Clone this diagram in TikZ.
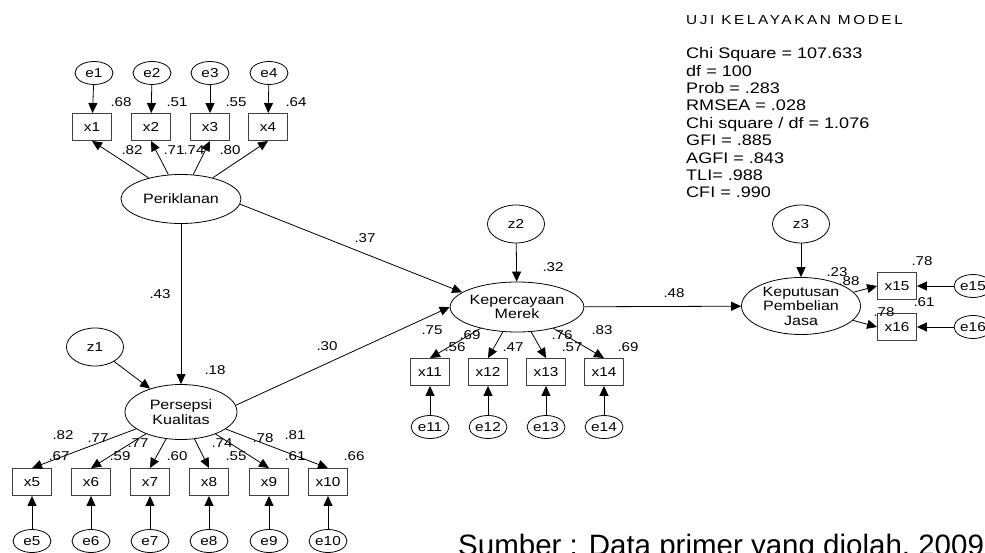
\documentclass[tikz,border=0pt]{standalone}
\usepackage{fontspec}
\setmainfont{Liberation Sans}[FakeStretch=1.18]
\newfontfamily\srcfont{Liberation Sans}
\usetikzlibrary{arrows.meta,shapes.geometric}

\begin{document}
\begin{tikzpicture}[
  x=1pt,y=-1pt,
  >={Triangle[length=10pt,width=9pt]},
  lat/.style={ellipse,draw,line width=0.8pt,inner sep=0pt,align=center,font=\fontsize{13.6}{14.5}\selectfont},
  obs/.style={rectangle,draw=black!75,line width=0.9pt,minimum width=39pt,minimum height=27pt,inner sep=0pt,font=\fontsize{13}{14}\selectfont},
  err/.style={ellipse,draw,line width=0.8pt,minimum width=38pt,minimum height=23pt,inner sep=0pt,font=\fontsize{13}{14}\selectfont},
  res/.style={err,minimum width=57pt,minimum height=38pt},
  coef/.style={inner sep=0pt,font=\fontsize{12.8}{14}\selectfont},
  arr/.style={->,line width=0.8pt},
]
\useasboundingbox (0,0) rectangle (985,553);

% latent constructs
\node[lat,minimum width=120pt,minimum height=49pt] (per) at (181,199) {Periklanan};
\node[lat,minimum width=112pt,minimum height=55pt] (pk)  at (181,412) {Persepsi\\Kualitas};
\node[lat,minimum width=129pt,minimum height=50pt] (km)  at (517,307) {Kepercayaan\\Merek};
\node[lat,minimum width=119pt,minimum height=57pt] (kpj) at (801,306) {Keputusan\\Pembelian\\Jasa};

% residuals
\node[res] (z1) at (95,347) {z1};
\node[res] (z2) at (516,224) {z2};
\node[res] (z3) at (801,224) {z3};

% indicators of Periklanan
\node[obs] (x1) at (92,127) {x1};
\node[obs] (x2) at (151,127) {x2};
\node[obs] (x3) at (210,127) {x3};
\node[obs] (x4) at (268,127) {x4};
\node[err] (e1) at (94,73) {e1};
\node[err] (e2) at (152,73) {e2};
\node[err] (e3) at (210,73) {e3};
\node[err] (e4) at (269,73) {e4};

% indicators of Persepsi Kualitas
\node[obs] (x5)  at (32,482) {x5};
\node[obs] (x6)  at (91,482) {x6};
\node[obs] (x7)  at (150,482) {x7};
\node[obs] (x8)  at (209,482) {x8};
\node[obs] (x9)  at (269,482) {x9};
\node[obs] (x10) at (328,482) {x10};
\node[err] (e5)  at (32,541) {e5};
\node[err] (e6)  at (91,541) {e6};
\node[err] (e7)  at (150,541) {e7};
\node[err] (e8)  at (209,541) {e8};
\node[err] (e9)  at (269,541) {e9};
\node[err] (e10) at (328,541) {e10};

% indicators of Kepercayaan Merek
\node[obs] (x11) at (430,372) {x11};
\node[obs] (x12) at (488,372) {x12};
\node[obs] (x13) at (546,372) {x13};
\node[obs] (x14) at (604,372) {x14};
\node[err] (e11) at (430,427) {e11};
\node[err] (e12) at (488,427) {e12};
\node[err] (e13) at (546,427) {e13};
\node[err] (e14) at (604,427) {e14};

% indicators of Keputusan Pembelian Jasa
\node[obs] (x15) at (897,286) {x15};
\node[obs] (x16) at (897,327) {x16};
\node[err] (e15) at (973,286) {e15};
\node[err] (e16) at (973,327) {e16};

% structural paths
\draw[arr] (per) -- (pk);
\draw[arr] (per.-5) -- (km.165);
\draw[arr] (pk.7) -- (km.180);
\draw[arr] (km) -- (kpj);
\draw[arr] (z1) -- (pk);
\draw[arr] (z2) -- (km);
\draw[arr] (z3) -- (kpj);

% measurement paths
\draw[arr] (per) -- (x1.south);
\draw[arr] (per) -- (x2.south);
\draw[arr] (per) -- (x3.south);
\draw[arr] (per) -- (x4.south);
\draw[arr] (pk) -- (x5.north);
\draw[arr] (pk) -- (x6.north);
\draw[arr] (pk) -- (x7.north);
\draw[arr] (pk) -- (x8.north);
\draw[arr] (pk) -- (x9.north);
\draw[arr] (pk) -- (x10.north);
\draw[arr] (km) -- (x11.north);
\draw[arr] (km) -- (x12.north);
\draw[arr] (km) -- (x13.north);
\draw[arr] (km) -- (x14.north);
\draw[arr] (kpj) -- (x15.west);
\draw[arr] (kpj) -- (x16.west);

% error terms
\draw[arr] (e1) -- (x1);
\draw[arr] (e2) -- (x2);
\draw[arr] (e3) -- (x3);
\draw[arr] (e4) -- (x4);
\draw[arr] (e5) -- (x5);
\draw[arr] (e6) -- (x6);
\draw[arr] (e7) -- (x7);
\draw[arr] (e8) -- (x8);
\draw[arr] (e9) -- (x9);
\draw[arr] (e10) -- (x10);
\draw[arr] (e11) -- (x11);
\draw[arr] (e12) -- (x12);
\draw[arr] (e13) -- (x13);
\draw[arr] (e14) -- (x14);
\draw[arr] (e15) -- (x15);
\draw[arr] (e16) -- (x16);

% path coefficients
\node[coef] (b1) at (160,294) {.43};
\node[coef] (b2) at (365,238) {.37};
\node[coef] (b3) at (327,346) {.30};
\node[coef] (b4) at (674,293) {.48};
\node[coef] (sq1) at (215,370) {.18};
\node[coef] (sq2) at (553,267) {.32};
\node[coef] (sq3) at (837,272) {.23};

% loadings and squared multiple correlations
\node[coef] (l1) at (132,150) {.82};
\node[coef] (l2) at (174,150) {.71};
\node[coef] (l3) at (194,150) {.74};
\node[coef] (l4) at (230,150) {.80};
\node[coef] (r1) at (121,102) {.68};
\node[coef] (r2) at (177,102) {.51};
\node[coef] (r3) at (236,102) {.55};
\node[coef] (r4) at (296,102) {.64};
\node[coef] (l5)  at (63,435) {.82};
\node[coef] (l6)  at (98,438) {.77};
\node[coef] (l7)  at (138,443) {.77};
\node[coef] (l8)  at (222,443) {.74};
\node[coef] (l9)  at (263,438) {.78};
\node[coef] (l10) at (295,435) {.81};
\node[coef] (r5)  at (59,456) {.67};
\node[coef] (r6)  at (120,456) {.59};
\node[coef] (r7)  at (177,456) {.60};
\node[coef] (r8)  at (236,456) {.55};
\node[coef] (r9)  at (295,456) {.61};
\node[coef] (r10) at (354,456) {.66};
\node[coef] (l11) at (432,330) {.75};
\node[coef] (l12) at (470,335) {.69};
\node[coef] (l13) at (562,335) {.76};
\node[coef] (l14) at (602,330) {.83};
\node[coef] (r11) at (455,347) {.56};
\node[coef] (r12) at (513,347) {.47};
\node[coef] (r13) at (572,347) {.57};
\node[coef] (r14) at (628,347) {.69};
\node[coef] (l15) at (849,281) {.88};
\node[coef] (l16) at (884,312) {.78};
\node[coef] (r15) at (922,261) {.78};
\node[coef] (r16) at (924,302) {.61};

% fit summary and source
\node[anchor=north west,inner sep=0pt,font=\fontsize{13}{15}\selectfont\addfontfeature{LetterSpace=20}] (fit) at (686,15.4) {UJI KELAYAKAN MODEL};
\node[anchor=north west,inner sep=0pt,align=left,font=\fontsize{15.3}{17.4}\selectfont] (stats) at (686,47.5)
  {Chi Square = 107.633\\ df = 100\\ Prob = .283\\ RMSEA = .028\\ Chi square / df = 1.076\\ GFI = .885\\ AGFI = .843\\ TLI= .988\\ CFI = .990};
\node[anchor=base west,inner sep=0pt,font=\srcfont\fontsize{29.5}{32}\selectfont] (src) at (458,555) {Sumber : Data primer yang diolah, 2009};

\end{tikzpicture}
\end{document}
